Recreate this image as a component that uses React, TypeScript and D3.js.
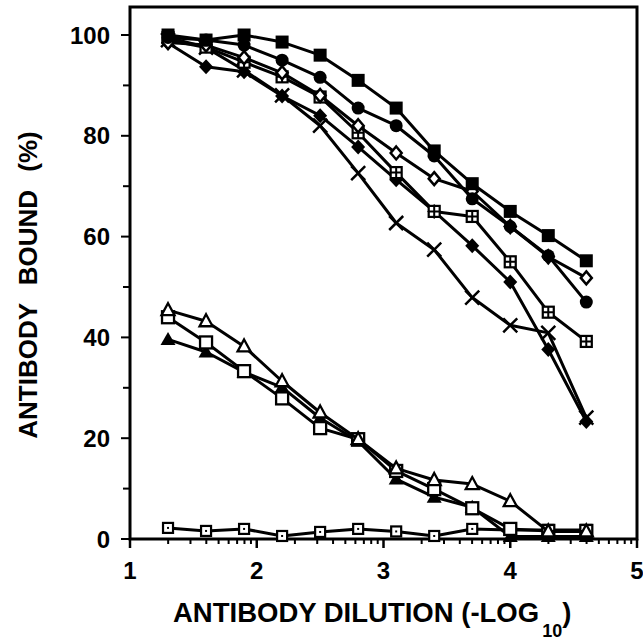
import React from "react";
import * as d3 from "d3";

// dilution steps (-log10), twofold series
const dilution = [1.3, 1.6, 1.9, 2.2, 2.5, 2.8, 3.1, 3.4, 3.7, 4.0, 4.3, 4.6];

// % antibody bound
const filledSquare = [100, 99, 100, 98.6, 96, 91, 85.5, 77, 70.5, 65, 60.2, 55.2];
const filledCircle = [99.5, 99, 98, 95, 91.6, 85.5, 82, 76, 67.5, 62, 56.2, 47];
const openDiamond = [98.5, 98, 95.5, 92.5, 88, 82, 76.6, 71.5, 69, 62, 56, 51.8];
const hatchedSquare = [99.5, 97.6, 94.6, 91.7, 87.7, 80.6, 72.7, 65, 64, 55, 45, 39.2];
const filledDiamond = [98.4, 93.7, 92.7, 87.9, 84, 77.8, 71.3, 65, 58.2, 51, 37.6, 23.3];
const crossMark = [99, 97.5, 93, 88, 82, 72.6, 62.7, 57.4, 47.9, 42.4, 40.9, 24.1];
const openTriangle = [45.4, 43.2, 38.2, 31.3, 25.1, 19.8, 14, 11.7, 10.9, 7.5, 1.5, 1.5];
const openSquare = [44, 39, 33.3, 27.9, 22, 19.8, 13.5, 9.9, 6.1, 2, 1.6, 1.6];
const filledTriangle = [39.6, 37.1, 33.1, 30.1, 24, 19.4, 11.9, 8.3, 6.3, 0.5, 0.5, 0.5];
const dottedSquare = [2.2, 1.6, 2.0, 0.6, 1.4, 2.0, 1.5, 0.6, 2.0, 1.8, 1.8, 1.8];

const xTicks = [1, 2, 3, 4, 5];
const yTicks = [0, 20, 40, 60, 80, 100];

const series = [
  { values: dottedSquare, marker: "dotsquare" },
  { values: filledTriangle, marker: "filltri" },
  { values: openSquare, marker: "opensquare" },
  { values: openTriangle, marker: "opentri" },
  { values: crossMark, marker: "cross" },
  { values: filledDiamond, marker: "filldiamond" },
  { values: hatchedSquare, marker: "hatchsquare" },
  { values: openDiamond, marker: "opendiamond" },
  { values: filledCircle, marker: "fillcircle" },
  { values: filledSquare, marker: "fillsquare" },
];

const W = 643;
const H = 640;
const left = 130, right = 637, top = 7, bottom = 539;

const x = d3.scaleLinear().domain([1, 5]).range([left, right]);
const y = d3.scaleLinear().domain([0, 100]).range([bottom, 35]);

const font = "'Liberation Sans', Arial, Helvetica, sans-serif";

function Marker({ type, cx, cy }: { type: string; cx: number; cy: number }) {
  const s = 6;
  const t = `translate(${cx},${cy})`;
  switch (type) {
    case "fillsquare":
      return <rect transform={t} x={-6.5} y={-6.5} width={13} height={13} fill="#000" />;
    case "fillcircle":
      return <circle transform={t} r={6.5} fill="#000" />;
    case "opendiamond":
      return <path transform={t} d="M0,-6.5L5.5,0L0,6.5L-5.5,0Z" fill="#fff" stroke="#000" strokeWidth={2.5} />;
    case "filldiamond":
      return <path transform={t} d="M0,-7.5L7,0L0,7.5L-7,0Z" fill="#000" />;
    case "hatchsquare":
      return (
        <g transform={t}>
          <rect x={-5.5} y={-5.5} width={11} height={11} fill="#fff" stroke="#000" strokeWidth={2.2} />
          <path d="M0,-5.5V5.5M-5.5,0H5.5" stroke="#000" strokeWidth={2} />
        </g>
      );
    case "cross":
      return <path transform={t} d="M-7,-7L7,7M7,-7L-7,7" stroke="#000" strokeWidth={2.5} />;
    case "opentri":
      return <path transform={t} d="M0,-7L6.5,5L-6.5,5Z" fill="#fff" stroke="#000" strokeWidth={2.3} />;
    case "filltri":
      return <path transform={t} d="M0,-7.5L7.5,5.5L-7.5,5.5Z" fill="#000" />;
    case "opensquare":
      return <rect transform={t} x={-s} y={-s} width={2 * s} height={2 * s} fill="#fff" stroke="#000" strokeWidth={2.3} />;
    case "dotsquare":
      return (
        <g transform={t}>
          <rect x={-5} y={-5} width={10} height={10} fill="#fff" stroke="#000" strokeWidth={2.2} />
          <rect x={-1} y={-1} width={2} height={2} fill="#000" />
        </g>
      );
    default:
      return null;
  }
}

export default function App() {
  const line = d3
    .line<number>()
    .x((_, i) => x(dilution[i]))
    .y((d) => y(d));

  // log-style minor ticks between whole units
  const minor: number[] = [];
  for (let k = 1; k < 5; k++) {
    for (let m = 2; m <= 9; m++) minor.push(k + Math.log10(m));
  }
  const yMinor = d3.range(10, 100, 20);

  return (
    <svg width={W} height={H} style={{ position: "absolute", left: 0, top: 0, background: "#fff" }}>
      {/* frame */}
      <path
        d={`M${left},${top}H${right}V${bottom}H${left}Z`}
        fill="none"
        stroke="#000"
        strokeWidth={3}
      />
      {/* y ticks */}
      {yTicks.map((v) => (
        <line key={"yt" + v} x1={left - 9} x2={left} y1={y(v)} y2={y(v)} stroke="#000" strokeWidth={2} />
      ))}
      {yMinor.map((v) => (
        <line key={"ym" + v} x1={left - 7} x2={left} y1={y(v)} y2={y(v)} stroke="#000" strokeWidth={2} />
      ))}
      {yTicks.map((v) => (
        <text
          key={"yl" + v}
          x={110}
          y={y(v)}
          dy="0.36em"
          textAnchor="end"
          fontFamily={font}
          fontWeight="bold"
          fontSize={24}
        >
          {v}
        </text>
      ))}
      {/* x ticks */}
      {xTicks.map((v) => (
        <line key={"xt" + v} x1={x(v)} x2={x(v)} y1={bottom} y2={bottom + 9} stroke="#000" strokeWidth={2.5} />
      ))}
      {minor.map((v, i) => (
        <line key={"xm" + i} x1={x(v)} x2={x(v)} y1={bottom} y2={bottom + 5} stroke="#000" strokeWidth={2} />
      ))}
      {xTicks.map((v) => (
        <text key={"xl" + v} x={x(v)} y={579} textAnchor="middle" fontFamily={font} fontWeight="bold" fontSize={24}>
          {v}
        </text>
      ))}
      {/* series */}
      {series.map((s, i) => (
        <g key={"s" + i}>
          <path d={line(s.values) || ""} fill="none" stroke="#000" strokeWidth={3} strokeLinejoin="round" />
          {s.values.map((v, j) => (
            <Marker key={j} type={s.marker} cx={x(dilution[j])} cy={y(v)} />
          ))}
        </g>
      ))}
      {/* axis titles */}
      <text
        transform="translate(37,285) rotate(-90)"
        textAnchor="middle"
        fontFamily={font}
        fontWeight="bold"
        fontSize={26}
        wordSpacing={11}
      >
        ANTIBODY BOUND (%)
      </text>
      <text x={173} y={622} fontFamily={font} fontWeight="bold" fontSize={27.5}>
        ANTIBODY DILUTION (-LOG
        <tspan fontSize={18} dx={3} dy={15}>
          10
        </tspan>
        <tspan dy={-15}>)</tspan>
      </text>
    </svg>
  );
}
